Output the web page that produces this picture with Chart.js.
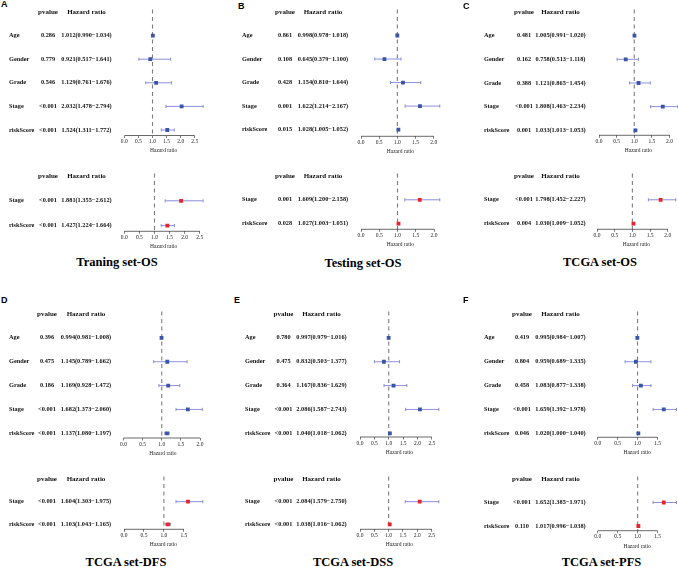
<!DOCTYPE html>
<html>
<head>
<meta charset="utf-8">
<script src="https://cdn.jsdelivr.net/npm/chart.js@4.4.0/dist/chart.umd.min.js"></script>
<style>
  html, body { margin: 0; padding: 0; background: #fff; }
  #fig { position: relative; width: 678px; height: 567px; overflow: hidden; background: #fff; }
  #fig canvas { position: absolute; }
  .letter { position: absolute; font: bold 9px "Liberation Sans", Arial, sans-serif; line-height: 9px; color: #000; }
  .title { position: absolute; width: 200px; margin-left: -100px; text-align: center; white-space: nowrap;
           font: bold 12.5px "Liberation Serif", "Times New Roman", serif; line-height: 12.5px; color: #000; }
</style>
</head>
<body>
<div id="fig"></div>
<script>
// ---- data ----
const panelLetters = ["A", "B", "C", "D", "E", "F"];
const panelTitles = ["Traning set-OS", "Testing set-OS", "TCGA set-OS", "TCGA set-DFS", "TCGA set-DSS", "TCGA set-PFS"];
const uniVars = ["Age", "Gender", "Grade", "Stage", "riskScore"];
const multiVars = ["Stage", "riskScore"];

// univariate cox
const uniP = [
  ["0.286", "0.779", "0.546", "<0.001", "<0.001"],
  ["0.861", "0.108", "0.428", "0.001", "0.015"],
  ["0.481", "0.162", "0.388", "<0.001", "0.001"],
  ["0.396", "0.475", "0.186", "<0.001", "<0.001"],
  ["0.780", "0.475", "0.364", "<0.001", "<0.001"],
  ["0.419", "0.804", "0.458", "<0.001", "0.046"]
];
const uniHR = [
  [1.012, 0.921, 1.129, 2.032, 1.524],
  [0.998, 0.645, 1.154, 1.622, 1.028],
  [1.005, 0.758, 1.121, 1.808, 1.033],
  [0.994, 1.145, 1.169, 1.682, 1.137],
  [0.997, 0.832, 1.167, 2.086, 1.040],
  [0.995, 0.959, 1.083, 1.659, 1.020]
];
const uniLow = [
  [0.990, 0.517, 0.761, 1.478, 1.311],
  [0.978, 0.379, 0.810, 1.214, 1.005],
  [0.991, 0.513, 0.865, 1.463, 1.013],
  [0.981, 0.789, 0.928, 1.373, 1.080],
  [0.979, 0.503, 0.836, 1.587, 1.018],
  [0.984, 0.689, 0.877, 1.392, 1.000]
];
const uniHigh = [
  [1.034, 1.641, 1.676, 2.794, 1.772],
  [1.018, 1.100, 1.644, 2.167, 1.052],
  [1.020, 1.118, 1.454, 2.234, 1.053],
  [1.008, 1.662, 1.472, 2.060, 1.197],
  [1.016, 1.377, 1.629, 2.743, 1.062],
  [1.007, 1.335, 1.338, 1.978, 1.040]
];

// multivariate cox
const multiP = [["<0.001", "<0.001"], ["0.001", "0.028"], ["<0.001", "0.004"], ["<0.001", "<0.001"], ["<0.001", "<0.001"], ["<0.001", "0.110"]];
const multiHR = [[1.881, 1.427], [1.609, 1.027], [1.798, 1.030], [1.604, 1.103], [2.084, 1.038], [1.652, 1.017]];
const multiLow = [[1.355, 1.224], [1.200, 1.003], [1.452, 1.009], [1.303, 1.043], [1.579, 1.016], [1.385, 0.996]];
const multiHigh = [[2.612, 1.664], [2.158, 1.051], [2.227, 1.052], [1.975, 1.165], [2.750, 1.062], [1.971, 1.038]];

// ---- layout (pixels) ----
const panelPos = [
  { left: 0,   letter: [1, 0],       labelX: 9,   pvalX: 48,    hrX: 86.5,  title: [117, 256.3],
    uni: { plotX: 124.3, headerY: 11.5, lastY: 129.5, axisY: 135 }, multi: { plotX: 124.3, headerY: 175.7, lastY: 225.3, axisY: 231 } },
  { left: 225, letter: [238, 2],     labelX: 242, pvalX: 285,   hrX: 323,   title: [363, 256.5],
    uni: { plotX: 361, headerY: 11.7, lastY: 129.3, axisY: 136 }, multi: { plotX: 361, headerY: 175.7, lastY: 223.3, axisY: 229 } },
  { left: 450, letter: [463, 2],     labelX: 484, pvalX: 524,   hrX: 560.5, title: [600, 256],
    uni: { plotX: 599, headerY: 11.7, lastY: 130, axisY: 135 }, multi: { plotX: 597, headerY: 175.7, lastY: 223.3, axisY: 229 } },
  { left: 0,   letter: [1, 295.5],   labelX: 9,   pvalX: 47,    hrX: 86,    title: [126, 555.5],
    uni: { plotX: 123.5, headerY: 314, lastY: 433.3, axisY: 438 }, multi: { plotX: 124, headerY: 479, lastY: 524.3, axisY: 529.3 } },
  { left: 225, letter: [234, 295.5], labelX: 245, pvalX: 283.5, hrX: 321.5, title: [353, 555.5],
    uni: { plotX: 360, headerY: 314, lastY: 433.3, axisY: 437 }, multi: { plotX: 360, headerY: 479, lastY: 524.3, axisY: 529.3 } },
  { left: 450, letter: [463, 295.5], labelX: 484, pvalX: 522,   hrX: 560.5, title: [601.5, 555.5],
    uni: { plotX: 597.7, headerY: 314, lastY: 433.3, axisY: 437.3 }, multi: { plotX: 597.7, headerY: 479, lastY: 526, axisY: 530.7 } }
];

const fig = document.getElementById("fig");
const SERIF = "'Liberation Serif', 'Times New Roman', serif";
const CANVAS_W = 228;
const PLOT_W = 78.8;
const AXIS_H = 2.5 + (6.6 + 2) + 6.6 + 1; // tick + title + labels + label padding

const fmt = (v) => v.toFixed(3);

// draws the table columns, CI bars, ref line and axis line
function forestPlugin(pos, vars, p, hr, lo, hi) {
  const n = vars.length;
  return {
    id: "forest",
    beforeDatasetsDraw(chart) {
      const { ctx, chartArea, scales: { x, y } } = chart;
      ctx.save();
      // dashed line at HR = 1
      const x1 = x.getPixelForValue(1);
      ctx.strokeStyle = "#7d7d7d";
      ctx.lineWidth = 1.1;
      ctx.setLineDash([4, 3.5]);
      ctx.beginPath();
      ctx.moveTo(x1, chartArea.top);
      ctx.lineTo(x1, chartArea.bottom);
      ctx.stroke();
      ctx.setLineDash([]);
      // confidence intervals
      ctx.strokeStyle = "#7f83d6";
      ctx.lineWidth = 0.9;
      lo.forEach((l, i) => {
        const yy = y.getPixelForValue(n - i);
        const a = x.getPixelForValue(l);
        const b = x.getPixelForValue(hi[i]);
        ctx.beginPath();
        ctx.moveTo(a, yy); ctx.lineTo(b, yy);
        ctx.moveTo(a, yy - 1.6); ctx.lineTo(a, yy + 1.6);
        ctx.moveTo(b, yy - 1.6); ctx.lineTo(b, yy + 1.6);
        ctx.stroke();
      });
      ctx.restore();
    },
    afterDraw(chart) {
      const { ctx, chartArea, scales: { x, y } } = chart;
      ctx.save();
      // axis line only over the tick range
      const ticks = x.ticks;
      ctx.strokeStyle = "#444";
      ctx.lineWidth = 0.8;
      ctx.beginPath();
      ctx.moveTo(x.getPixelForValue(ticks[0].value), chartArea.bottom);
      ctx.lineTo(x.getPixelForValue(ticks[ticks.length - 1].value), chartArea.bottom);
      ctx.stroke();

      // table text
      const off = pos.left;
      ctx.fillStyle = "#111";
      ctx.textBaseline = "middle";
      const hy = y.getPixelForValue(n + 1);
      ctx.font = "bold 7px " + SERIF;
      ctx.textAlign = "center";
      ctx.fillText("pvalue", pos.pvalX - off, hy);
      ctx.fillText("Hazard ratio", pos.hrX - off, hy);
      ctx.font = "bold 6.3px " + SERIF;
      vars.forEach((v, i) => {
        const yy = y.getPixelForValue(n - i);
        ctx.textAlign = "left";
        ctx.fillText(v, pos.labelX - off, yy);
        ctx.textAlign = "center";
        ctx.fillText(p[i], pos.pvalX - off, yy);
        ctx.fillText(fmt(hr[i]) + "(" + fmt(lo[i]) + "\u2212" + fmt(hi[i]) + ")", pos.hrX - off, yy);
      });
      ctx.restore();
    }
  };
}

function forest(pos, lay, vars, p, hr, lo, hi, color) {
  const n = vars.length;
  const step = (lay.lastY - lay.headerY) / n;
  const areaTop = lay.headerY - 2.5;
  const top = lay.headerY - 10;
  const padTop = areaTop - top;
  const areaH = lay.axisY - areaTop;
  const H = Math.ceil(padTop + areaH + AXIS_H + 1);
  const padBottom = H - padTop - areaH - AXIS_H;
  const padLeft = lay.plotX - pos.left;
  const padRight = CANVAS_W - padLeft - PLOT_W;

  const cv = document.createElement("canvas");
  cv.width = CANVAS_W;
  cv.height = H;
  cv.style.left = pos.left + "px";
  cv.style.top = top + "px";
  fig.appendChild(cv);

  const pts = hr.map((h, i) => ({ x: h, y: n - i }));

  new Chart(cv, {
    type: "scatter",
    data: {
      datasets: [{
        data: pts,
        pointStyle: "rect",
        radius: 2.7,
        backgroundColor: color,
        borderWidth: 0
      }]
    },
    options: {
      responsive: false,
      maintainAspectRatio: false,
      animation: false,
      events: [],
      layout: { autoPadding: false, padding: { left: padLeft, right: padRight, top: padTop, bottom: padBottom } },
      plugins: { legend: { display: false }, tooltip: { enabled: false } },
      scales: {
        x: {
          type: "linear",
          position: "bottom",
          min: 0,
          max: Math.max(...hi),
          border: { display: false },
          grid: { drawOnChartArea: false, drawTicks: true, tickLength: 2.5, color: "#444", lineWidth: 0.7 },
          ticks: {
            stepSize: 0.5, includeBounds: false, autoSkip: false, maxRotation: 0, padding: 0.5,
            color: "#222", font: { family: SERIF, size: 5.5 },
            callback: (v) => Number(v).toFixed(1)
          },
          title: { display: true, text: "Hazard ratio", color: "#222", font: { family: SERIF, size: 5.5 }, padding: { top: 2, bottom: 0 } }
        },
        y: {
          type: "linear",
          display: false,
          min: 1 - (lay.axisY - lay.lastY) / step,
          max: n + 1 + 2.5 / step
        }
      }
    },
    plugins: [forestPlugin(pos, vars, p, hr, lo, hi)]
  });
}

panelPos.forEach((pos, k) => {
  const letter = document.createElement("div");
  letter.className = "letter";
  letter.textContent = panelLetters[k];
  letter.style.left = pos.letter[0] + "px";
  letter.style.top = pos.letter[1] + "px";
  fig.appendChild(letter);

  const title = document.createElement("div");
  title.className = "title";
  title.textContent = panelTitles[k];
  title.style.left = pos.title[0] + "px";
  title.style.top = pos.title[1] + "px";
  fig.appendChild(title);

  forest(pos, pos.uni, uniVars, uniP[k], uniHR[k], uniLow[k], uniHigh[k], "#3b55a6");
  forest(pos, pos.multi, multiVars, multiP[k], multiHR[k], multiLow[k], multiHigh[k], "#e8232b");
});
</script>
</body>
</html>
